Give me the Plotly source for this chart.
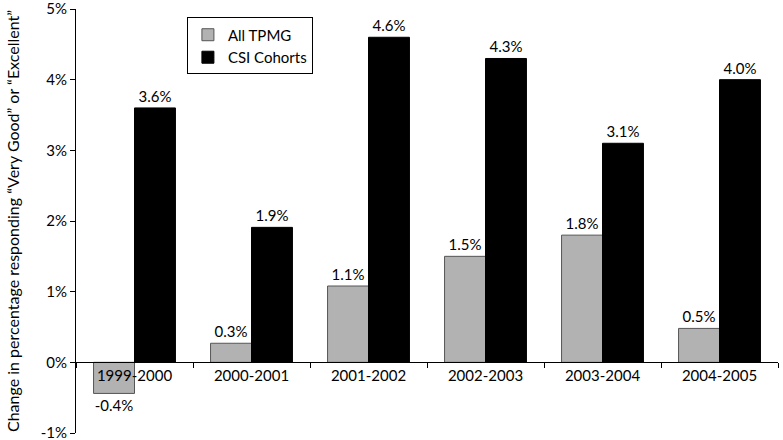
import plotly.graph_objects as go

categories = ["1999-2000", "2000-2001", "2001-2002", "2002-2003", "2003-2004", "2004-2005"]
all_tpmg = [-0.44, 0.27, 1.08, 1.50, 1.80, 0.48]
all_tpmg_labels = ["-0.4%", "0.3%", "1.1%", "1.5%", "1.8%", "0.5%"]
csi_cohorts = [3.60, 1.91, 4.60, 4.30, 3.10, 4.00]
csi_labels = ["3.6%", "1.9%", "4.6%", "4.3%", "3.1%", "4.0%"]
y_ticks = [-1, 0, 1, 2, 3, 4, 5]
y_tick_labels = ["-1%", "0%", "1%", "2%", "3%", "4%", "5%"]
y_title = "Change in percentage responding \u201cVery Good\u201d or \u201cExcellent\u201d"

FONT = "Lato"
FS = 15

fig = go.Figure()
fig.add_trace(go.Bar(
    x=categories, y=all_tpmg, name="All TPMG",
    marker=dict(color="#b2b2b2", line=dict(color="#555555", width=1)),
    text=all_tpmg_labels, textposition="outside", cliponaxis=False,
    textfont=dict(family=FONT, size=FS, color="black"),
))
fig.add_trace(go.Bar(
    x=categories, y=csi_cohorts, name="CSI Cohorts",
    marker=dict(color="black", line=dict(color="black", width=1)),
    text=csi_labels, textposition="outside", cliponaxis=False,
    textfont=dict(family=FONT, size=FS, color="black"),
))

fig.update_layout(
    width=783, height=440,
    margin=dict(l=76, r=5, t=9, b=7, autoexpand=False),
    paper_bgcolor="white", plot_bgcolor="white",
    barmode="group", bargap=0.3, bargroupgap=0,
    font=dict(family=FONT, size=FS, color="black"),
    showlegend=True,
    legend=dict(x=0.158, y=0.98, xanchor="left", yanchor="top",
                bordercolor="black", borderwidth=1, bgcolor="white",
                font=dict(family=FONT, size=FS, color="black"),
                tracegroupgap=0, itemwidth=30),
    uniformtext=dict(minsize=FS, mode="show"),
    annotations=[dict(
        text=y_title, textangle=-90, xref="paper", yref="paper",
        x=-(76 - 12) / 702, y=0.5, xanchor="center", yanchor="middle",
        showarrow=False, font=dict(family=FONT, size=16, color="black"),
    )],
)
fig.update_xaxes(
    type="category", anchor="free", position=1/6, automargin=False,
    showline=True, linecolor="black", linewidth=1,
    ticks="outside", tickson="boundaries", ticklen=5, tickcolor="black",
    showgrid=False, zeroline=False,
    tickfont=dict(family=FONT, size=FS, color="black"),
)
fig.update_yaxes(
    range=[-1, 5], tickvals=y_ticks, ticktext=y_tick_labels, automargin=False,
    ticklabeloverflow="allow",
    showline=True, linecolor="black", linewidth=1,
    ticks="outside", ticklen=5, tickcolor="black",
    showgrid=False, zeroline=False,
    tickfont=dict(family=FONT, size=FS, color="black"),
)

fig.write_html("out.html", config={"displayModeBar": False},
               post_script="document.body.style.margin='0';")
